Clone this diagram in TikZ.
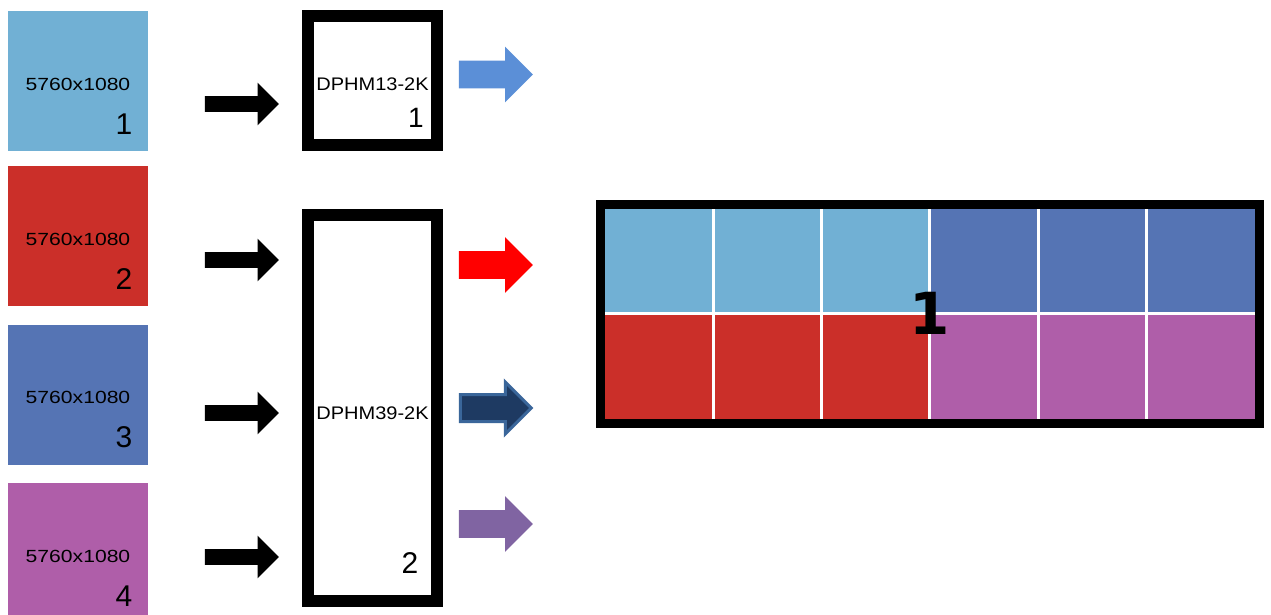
\documentclass[tikz,border=0pt]{standalone}
\usepackage{graphicx}
\usepackage{fontspec}
\setmainfont{Liberation Sans}
\newfontfamily\djv{DejaVu Sans}
\usepackage{tikz}
\usetikzlibrary{shapes.arrows}
\definecolor{srcA}{HTML}{71B0D4}
\definecolor{srcB}{HTML}{CB2F29}
\definecolor{srcC}{HTML}{5574B4}
\definecolor{srcD}{HTML}{AF5EA9}
\definecolor{outA}{HTML}{5B8FD7}
\definecolor{outB}{HTML}{FF0000}
\definecolor{outC}{HTML}{1E3A62}
\definecolor{outCedge}{HTML}{3A669A}
\definecolor{outD}{HTML}{8064A2}
\newcommand{\wide}[2][1.2]{\scalebox{#1}[1]{#2}}

\begin{document}
\begin{tikzpicture}[
  x=0.5pt, y=-0.5pt,
  src/.style={minimum width=70pt, minimum height=70pt, inner sep=0pt},
  res/.style={font=\fontsize{8.8}{10}\selectfont, inner sep=0pt},
  num/.style={font=\fontsize{15}{17}\selectfont, inner sep=0pt},
  model/.style={font=\fontsize{9.1}{11}\selectfont, inner sep=0pt},
  dev/.style={draw=black, line width=6pt, fill=white, minimum width=64.5pt, inner sep=0pt},
  feed/.style={single arrow, fill=black, inner xsep=0pt, inner ysep=3.75pt,
               single arrow head extend=6.75pt, minimum height=37pt},
  link/.style={single arrow, inner xsep=0pt, inner ysep=6.75pt,
               single arrow head extend=7pt, minimum height=37pt}
]
  \useasboundingbox (0,0) rectangle (1271,615);

  % sources
  \foreach \i/\c/\y in {1/srcA/81, 2/srcB/236.5, 3/srcC/394.5, 4/srcD/553} {
    \node[src, fill=\c] (s\i) at (78,\y) {};
    \node[res] (s\i-res) at ([shift={(0,3)}]s\i.center) {\wide{5760x1080}};
    \node[num] (s\i-num) at ([shift={(46,43)}]s\i.center) {\i};
  }
  \foreach \i/\y in {1/104, 2/260, 3/413, 4/557}
    \node[feed] (f\i) at (238,\y) {};

  % processors
  \node[dev, minimum height=64.5pt] (dev1) at (372.5,80.5) {};
  \node[model] (dev1-name) at ([shift={(0,3.5)}]dev1.center) {\wide[1.1]{DPHM13-2K}};
  \node[num, font=\fontsize{14}{16}\selectfont] (dev1-num) at ([shift={(43.5,37.5)}]dev1.center) {1};
  \node[dev, minimum height=193pt] (dev2) at (372.5,408) {};
  \node[model] (dev2-name) at ([shift={(0,5)}]dev2.center) {\wide[1.1]{DPHM39-2K}};
  \node[num] (dev2-num) at ([shift={(37.5,155)}]dev2.center) {2};

  % outputs
  \node[link, fill=outA] (o1) at (489,74.5) {};
  \node[link, fill=outB] (o2) at (489,265) {};
  \node[link, fill=outC, draw=outCedge, line width=1.5pt, inner ysep=6pt,
        single arrow head extend=6.25pt, minimum height=35.5pt] (o3) at (489,408) {};
  \node[link, fill=outD] (o4) at (489,524) {};

  % video wall
  \fill[srcA] (605,209) rectangle (930,314);
  \fill[srcC] (930,209) rectangle (1255,314);
  \fill[srcB] (605,314) rectangle (930,419);
  \fill[srcD] (930,314) rectangle (1255,419);
  \foreach \k in {1,...,5}
    \draw[white, line width=1.5pt] (605+108.33*\k,209) -- (605+108.33*\k,419);
  \draw[white, line width=1.5pt] (605,314) -- (1255,314);
  \node[draw=black, line width=4.5pt, minimum width=329.5pt, minimum height=109.25pt,
        inner sep=0pt] (wall) at (930,313.75) {};
  \node[font=\djv\bfseries\fontsize{29}{30}\selectfont, inner sep=0pt] (wall-id) at (wall.center) {1};
\end{tikzpicture}
\end{document}
